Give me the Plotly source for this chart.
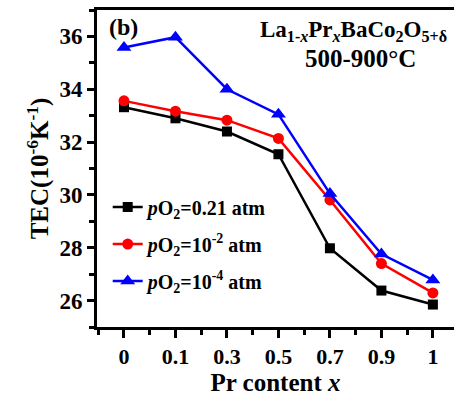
import plotly.graph_objects as go

categories = ["0", "0.1", "0.3", "0.5", "0.7", "0.9", "1"]
tec_021 = [33.32, 32.90, 32.40, 31.54, 27.98, 26.38, 25.85]
tec_1e2 = [33.56, 33.17, 32.83, 32.14, 29.81, 27.40, 26.29]
tec_1e4 = [35.58, 35.97, 34.00, 33.05, 30.05, 27.76, 26.78]
yticks = [26, 28, 30, 32, 34, 36]
names = ["<i>p</i>O<sub>2</sub>=0.21 atm",
         "<i>p</i>O<sub>2</sub>=10<sup>-2</sup> atm",
         "<i>p</i>O<sub>2</sub>=10<sup>-4</sup> atm"]
colors = ["#000000", "#ff0000", "#0000ff"]
symbols = ["square", "circle", "triangle-up"]
msizes = [10, 11, 13]

FONT = "Liberation Serif"
xi = list(range(len(categories)))

def f(size):
    return dict(family=FONT, size=size, color="black", weight="bold")

fig = go.Figure()
for k, (ys, nm, c, s, ms) in enumerate(zip([tec_021, tec_1e2, tec_1e4], names, colors, symbols, msizes)):
    fig.add_trace(go.Scatter(x=xi, y=ys, mode="lines+markers", name=nm, legendgroup="g%d" % k,
                             line=dict(color=c, width=2.5),
                             marker=dict(symbol=s, size=ms, color=c)))

fig.update_layout(
    width=454, height=396,
    margin=dict(l=97, r=0, t=10, b=69),
    paper_bgcolor="white", plot_bgcolor="white",
    font=f(20),
    showlegend=True,
    legend=dict(x=0.03, y=0.44, xanchor="left", yanchor="top",
                bgcolor="rgba(0,0,0,0)", font=f(20),
                tracegroupgap=8, itemwidth=30),
    xaxis=dict(range=[-0.524, 6.41], tickvals=xi, ticktext=categories,
               showline=True, linecolor="black", linewidth=3, mirror=True,
               ticks="outside", ticklen=8, tickwidth=2.5, tickcolor="black",
               minor=dict(dtick=0.5, tick0=-0.5, ticks="outside", ticklen=5, tickwidth=2.5, tickcolor="black"),
               showgrid=False, zeroline=False,
               tickfont=dict(family=FONT, size=22, weight="bold", color="black"),
               title=dict(text="Pr content <i>x</i>", font=f(25), standoff=3)),
    yaxis=dict(range=[25, 37], tickvals=yticks,
               showline=True, linecolor="black", linewidth=3, mirror=False,
               ticks="outside", ticklen=7, tickwidth=2.5, tickcolor="black",
               minor=dict(dtick=1, tick0=25, ticks="outside", ticklen=5, tickwidth=2.5, tickcolor="black"),
               showgrid=False, zeroline=False,
               tickfont=dict(family=FONT, size=23, weight="bold", color="black"),
               title=dict(text="TEC(10<sup>-6</sup>K<sup>-1</sup>)", font=f(25), standoff=4)),
)

fig.add_annotation(text="(b)", xref="paper", yref="paper", x=0.028, y=0.995,
                   xanchor="left", yanchor="top", showarrow=False, font=f(24))
fig.add_annotation(text="La<sub>1-<i>x</i></sub>Pr<sub><i>x</i></sub>BaCo<sub>2</sub>O<sub>5+δ</sub>",
                   xref="paper", yref="paper", x=0.985, y=0.985,
                   xanchor="right", yanchor="top", showarrow=False, font=f(23))
fig.add_annotation(text="500-900°C", xref="paper", yref="paper", x=0.737, y=0.895,
                   xanchor="center", yanchor="top", showarrow=False, font=f(25))

fig.write_html("out.html")
